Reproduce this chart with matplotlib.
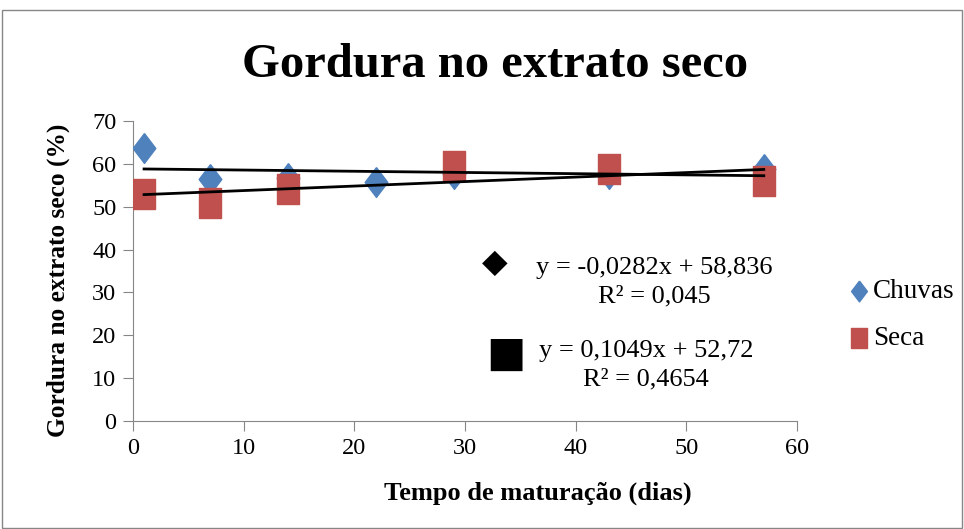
import matplotlib
matplotlib.use("Agg")
import matplotlib.pyplot as plt
from matplotlib.patches import Rectangle
import numpy as np

# data
chuvas_x = [1, 7, 14, 22, 29, 43, 57]
chuvas_y = [63.7, 56.4, 56.8, 55.8, 57.6, 57.6, 58.8]
seca_x = [1, 7, 14, 29, 43, 57]
seca_y = [53.0, 50.9, 54.1, 59.5, 58.8, 56.0]

eq_chuvas = "y = -0,0282x + 58,836\nR² = 0,045"
eq_seca = "y = 0,1049x + 52,72\nR² = 0,4654"
chuvas_fit = (-0.0282, 58.836)
seca_fit = (0.1049, 52.72)

plt.rcParams['font.family'] = ['Liberation Serif', 'DejaVu Serif']

# the original chart is stretched vertically, so markers are taller than wide
diamond = [(0, 1), (0.76, 0), (0, -1), (-0.76, 0), (0, 1)]
tall_sq = [(-0.74, -1), (0.74, -1), (0.74, 1), (-0.74, 1), (-0.74, -1)]

fig = plt.figure(figsize=(9.64, 5.29), dpi=100)
ax = fig.add_axes([133/964, 1 - 421/529, 664/964, 300/529])

ax.scatter(chuvas_x, chuvas_y, marker=diamond, s=460, color="#4F81BD", zorder=3, label="Chuvas")
ax.scatter(seca_x, seca_y, marker=tall_sq, s=450, color="#C0504D", zorder=4, label="Seca")

xs = np.array([1, 57])
for m, b in [chuvas_fit, seca_fit]:
    ax.plot(xs, m * xs + b, color="black", lw=2, zorder=5)

ax.set_xlim(0, 60)
ax.set_ylim(0, 70)
ax.set_xticks(range(0, 61, 10))
ax.set_yticks(range(0, 71, 10))
ax.tick_params(labelsize=17.5, color="#868686", length=7, direction="out", pad=5)
for s in ["top", "right"]:
    ax.spines[s].set_visible(False)
for s in ["left", "bottom"]:
    ax.spines[s].set_color("#868686")

fig.text(538/964, 1 - 493/529, "Tempo de maturação (dias)", fontsize=19, fontweight="bold",
         ha="center", va="center")
fig.text(58/964, 1 - 280/529, "Gordura no extrato seco (%)", fontsize=18.3, fontweight="bold",
         ha="center", va="center", rotation=90)

fig.text(495/964, 1 - 65/529, "Gordura no extrato seco", fontsize=35, fontweight="bold",
         ha="center", va="center")

# equation boxes with black marker
fig.text(495/964, 1 - 262/529, "\u25C6", fontsize=24, ha="center", va="center", color="black",
         family=["DejaVu Sans"])
fig.text(654/964, 1 - 282/529, eq_chuvas, fontsize=19, ha="center", va="center", linespacing=1.35)
fig.text(506/964, 1 - 354/529, "\u25A0", fontsize=30, ha="center", va="center", color="black",
         family=["DejaVu Sans"])
fig.text(646/964, 1 - 365/529, eq_seca, fontsize=19, ha="center", va="center", linespacing=1.35)

leg = fig.legend(loc="center left", bbox_to_anchor=(835/964, 1 - 315/529), frameon=False,
                 fontsize=19.5, handletextpad=0.0, labelspacing=0.8, markerscale=0.7,
                 handlelength=1.0, borderaxespad=0)

fig.patches.append(Rectangle((0.002, 0.002), 0.996, 0.98, transform=fig.transFigure,
                             fill=False, edgecolor="#868686", lw=1))

fig.savefig("out.png", dpi=100)
